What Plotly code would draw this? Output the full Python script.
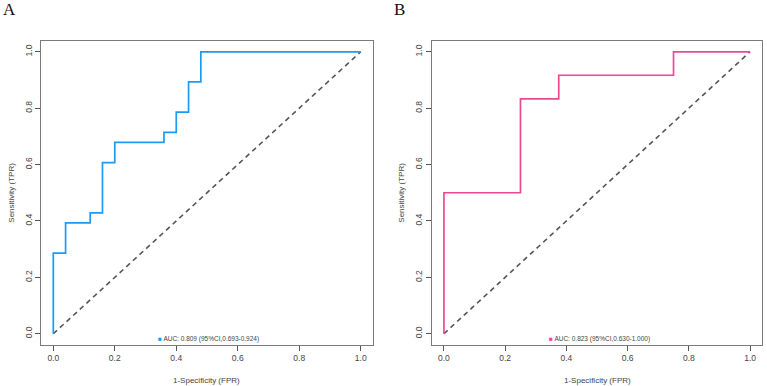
import plotly.graph_objects as go

# Panel A ROC (step curve)
fpr_a = [0.0, 0.0, 0.04, 0.04, 0.12, 0.12, 0.16, 0.16, 0.20, 0.20, 0.36, 0.36, 0.40, 0.40, 0.44, 0.44, 0.48, 0.48, 1.0]
tpr_a = [0.0, 0.2857, 0.2857, 0.3929, 0.3929, 0.4286, 0.4286, 0.6071, 0.6071, 0.6786, 0.6786, 0.7143, 0.7143, 0.7857, 0.7857, 0.8929, 0.8929, 1.0, 1.0]
# Panel B ROC
fpr_b = [0.0, 0.0, 0.25, 0.25, 0.375, 0.375, 0.75, 0.75, 1.0]
tpr_b = [0.0, 0.5, 0.5, 0.8333, 0.8333, 0.9167, 0.9167, 1.0, 1.0]
diag = [0.0, 1.0]
ticks = [0.0, 0.2, 0.4, 0.6, 0.8, 1.0]
tick_labels = ["0.0", "0.2", "0.4", "0.6", "0.8", "1.0"]
label_a = "AUC: 0.809 (95%CI,0.693-0.924)"
label_b = "AUC: 0.823 (95%CI,0.630-1.000)"

W, H = 767, 386
blue = "#1C9AF5"
pink = "#E94A94"
FONT = "Liberation Sans, Arial, sans-serif"

def px(x):
    return x / W

def py(y):
    return 1 - y / H

fig = go.Figure()
fig.add_trace(go.Scatter(x=diag, y=diag, mode="lines", line=dict(color="#555555", width=1.6, dash="5px,4px"),
                         xaxis="x", yaxis="y", showlegend=False, hoverinfo="skip"))
fig.add_trace(go.Scatter(x=fpr_a, y=tpr_a, mode="lines", line=dict(color=blue, width=1.7),
                         xaxis="x", yaxis="y", showlegend=False))
fig.add_trace(go.Scatter(x=diag, y=diag, mode="lines", line=dict(color="#555555", width=1.6, dash="5px,4px"),
                         xaxis="x2", yaxis="y2", showlegend=False, hoverinfo="skip"))
fig.add_trace(go.Scatter(x=fpr_b, y=tpr_b, mode="lines", line=dict(color=pink, width=1.7),
                         xaxis="x2", yaxis="y2", showlegend=False))

ydom = [py(345), py(40.5)]
common = dict(range=[-0.04, 1.04], showgrid=False, zeroline=False, showline=True, mirror=True,
              linecolor="#7a7a7a", linewidth=1, ticks="outside", ticklen=5, tickcolor="#555555",
              tickvals=ticks, ticktext=tick_labels, tickfont=dict(family=FONT, size=8.5, color="#444444"))

fig.update_layout(
    width=W, height=H, margin=dict(l=0, r=0, t=0, b=0),
    paper_bgcolor="white", plot_bgcolor="white",
    xaxis=dict(domain=[px(41), px(373)], anchor="y", **common),
    yaxis=dict(domain=ydom, anchor="x", tickangle=-90, **common),
    xaxis2=dict(domain=[px(431.7), px(762.3)], anchor="y2", **common),
    yaxis2=dict(domain=ydom, anchor="x2", tickangle=-90, **common),
)

annos = []
# panel letters
annos.append(dict(x=px(9), y=py(10), text="A", font=dict(family="Liberation Serif, Times New Roman, serif", size=17, color="#111111")))
annos.append(dict(x=px(399), y=py(10), text="B", font=dict(family="Liberation Serif, Times New Roman, serif", size=17, color="#111111")))
# axis titles
for cx, ycx in [((41 + 373) / 2, 12), ((431.7 + 762.3) / 2, 402)]:
    annos.append(dict(x=px(cx), y=py(380), text="1-Specificity (FPR)", font=dict(family=FONT, size=8, color="#444444")))
    annos.append(dict(x=px(ycx), y=py(192.7), text="Sensitivity (TPR)", textangle=-90, font=dict(family=FONT, size=8, color="#444444")))
# legends
annos.append(dict(x=px(208), y=py(338.5), text=f"<span style='color:{blue}'>■</span> {label_a}",
                  font=dict(family=FONT, size=6.5, color="#444444")))
annos.append(dict(x=px(599), y=py(338.5), text=f"<span style='color:{pink}'>■</span> {label_b}",
                  font=dict(family=FONT, size=6.5, color="#444444")))
for a in annos:
    a.update(xref="paper", yref="paper", showarrow=False, xanchor="center", yanchor="middle")
fig.update_layout(annotations=annos)

fig.write_html("out.html")
